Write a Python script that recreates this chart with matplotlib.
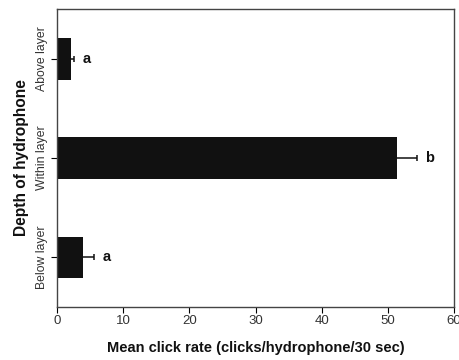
import matplotlib
matplotlib.use("Agg")
import matplotlib.pyplot as plt
import numpy as np

plt.rcParams['font.family'] = ['Liberation Sans', 'DejaVu Sans']

categories = ["Below layer", "Within layer", "Above layer"]
means = [3.9, 51.4, 2.1]
errors = [1.7, 3.1, 0.5]
letters = ["a", "b", "a"]

fig = plt.figure(figsize=(4.6, 3.6), dpi=100)
ax = fig.add_axes([0.1246, 0.147, 0.862, 0.828])

y = np.arange(len(categories))
ax.barh(y, means, height=0.42, color="#111111", zorder=2)

# one-sided error bars: line from bar end plus a cap
ends = np.array(means) + np.array(errors)
ax.hlines(y, means, ends, color="#111111", linewidth=1.1, zorder=3)
ax.plot(ends, y, linestyle="none", marker="|", markersize=5, markeredgewidth=1.1,
        color="#111111", zorder=3)

for yi, end, lab in zip(y, ends, letters):
    ax.text(end + 1.2, yi, lab, ha="left", va="center",
            fontsize=10.5, fontweight="bold", color="#111111")

ax.set_xlim(0, 60)
ax.set_ylim(-0.5, 2.5)
ax.set_xticks(np.arange(0, 61, 10))
ax.set_yticks(y)
ax.set_yticklabels(categories, rotation=90, va="center", fontsize=8.8, color="#333333")
ax.tick_params(axis="x", labelsize=9.5, labelcolor="#333333", direction="out",
               length=4, width=0.8, pad=1.5)
ax.tick_params(axis="y", direction="out", length=4, width=0.8, pad=3)

for s in ax.spines.values():
    s.set_color("#444444")
    s.set_linewidth(1.0)

ax.set_xlabel("Mean click rate (clicks/hydrophone/30 sec)", fontsize=10.5, fontweight="bold",
              color="#111111", labelpad=10)
ax.set_ylabel("Depth of hydrophone", fontsize=11.2, fontweight="bold", color="#111111", labelpad=5)

fig.savefig("out.png", dpi=100)
